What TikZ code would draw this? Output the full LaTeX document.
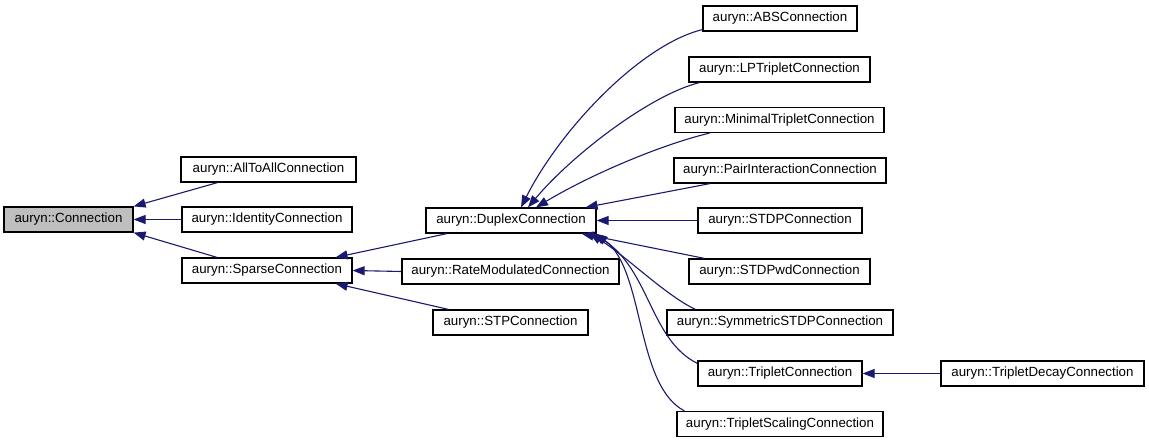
\documentclass[tikz,border=0pt]{standalone}
\usepackage{fontspec}
\setmainfont{Liberation Sans}
\usetikzlibrary{arrows.meta}
\definecolor{edgeblue}{HTML}{191970}
\definecolor{basegray}{HTML}{BFBFBF}

\begin{document}
\begin{tikzpicture}[x=1pt,y=-1pt,
  cls/.style={draw, line width=1.2pt, minimum height=25pt, inner sep=0pt,
    font=\fontsize{13.3}{16}\selectfont},
  inh/.style={draw=edgeblue, line width=1.1pt, {Triangle[length=12pt,width=9pt]}-}]
\useasboundingbox (0,0) rectangle (1149,443);
\node (conn) at (68.5,219.5) [cls, fill=basegray, minimum width=129pt] {auryn::Connection};
\node (alltoall) at (268.5,169.5) [cls, minimum width=175pt] {auryn::AllToAllConnection};
\node (identity) at (267,219.5) [cls, minimum width=170pt] {auryn::IdentityConnection};
\node (sparse) at (267,270.5) [cls, minimum width=170pt] {auryn::SparseConnection};
\node (duplex) at (511,220.5) [cls, minimum width=170pt] {auryn::DuplexConnection};
\node (ratemod) at (510.5,271.5) [cls, minimum width=217pt] {auryn::RateModulatedConnection};
\node (stp) at (510.5,322.5) [cls, minimum width=155pt] {auryn::STPConnection};
\node (abs) at (780,18.5) [cls, minimum width=154pt] {auryn::ABSConnection};
\node (lptriplet) at (779.5,69.5) [cls, minimum width=181pt] {auryn::LPTripletConnection};
\node (minimal) at (779.5,120) [cls, minimum width=209pt] {auryn::MinimalTripletConnection};
\node (pair) at (780,170.5) [cls, minimum width=212pt] {auryn::PairInteractionConnection};
\node (stdp) at (780,220.5) [cls, minimum width=164pt] {auryn::STDPConnection};
\node (stdpwd) at (779.5,271.5) [cls, minimum width=181pt] {auryn::STDPwdConnection};
\node (symstdp) at (780,322.5) [cls, minimum width=226pt] {auryn::SymmetricSTDPConnection};
\node (triplet) at (780,373.5) [cls, minimum width=164pt] {auryn::TripletConnection};
\node (tripscale) at (780,424) [cls, minimum width=206pt] {auryn::TripletScalingConnection};
\node (tripdecay) at (1042.5,373.5) [cls, minimum width=203pt] {auryn::TripletDecayConnection};
% direct subclasses of Connection
\draw[inh] (conn.north east) -- ([xshift=-51pt]alltoall.south);
\draw[inh] (conn.east) -- (identity.west);
\draw[inh] (conn.south east) -- ([xshift=-50pt]sparse.north);
% SparseConnection
\draw[inh] ([xshift=-17pt]sparse.north east) -- ([xshift=-64pt]duplex.south);
\draw[inh] (sparse.east) -- (ratemod.west);
\draw[inh] ([xshift=-17pt]sparse.south east) -- ([xshift=-62pt]stp.north);
% DuplexConnection
\draw[inh] ([xshift=10pt]duplex.north) .. controls (560,130) and (640,45) .. ([yshift=2pt]abs.south west);
\draw[inh] ([xshift=17pt]duplex.north) .. controls (572,155) and (650,95) .. ([xshift=11pt]lptriplet.south west);
\draw[inh] ([xshift=25pt]duplex.north) .. controls (590,175) and (660,145) .. ([xshift=-70pt]minimal.south);
\draw[inh] ([xshift=-11pt]duplex.north east) -- ([xshift=-70pt]pair.south);
\draw[inh] (duplex.east) -- (stdp.west);
\draw[inh] ([xshift=-15pt]duplex.south east) -- ([xshift=-75pt]stdpwd.north);
\draw[inh] ([xshift=-7pt]duplex.south east) .. controls (625,255) and (665,295) .. ([xshift=29pt]symstdp.north west);
\draw[inh] ([xshift=-3pt]duplex.south east) .. controls (650,270) and (650,340) .. ([yshift=-3pt]triplet.north west);
\draw[inh] ([xshift=-1pt]duplex.south east) .. controls (645,270) and (635,385) .. ([xshift=8pt]tripscale.north west);
% TripletConnection
\draw[inh] (triplet.east) -- (tripdecay.west);
\end{tikzpicture}
\end{document}
